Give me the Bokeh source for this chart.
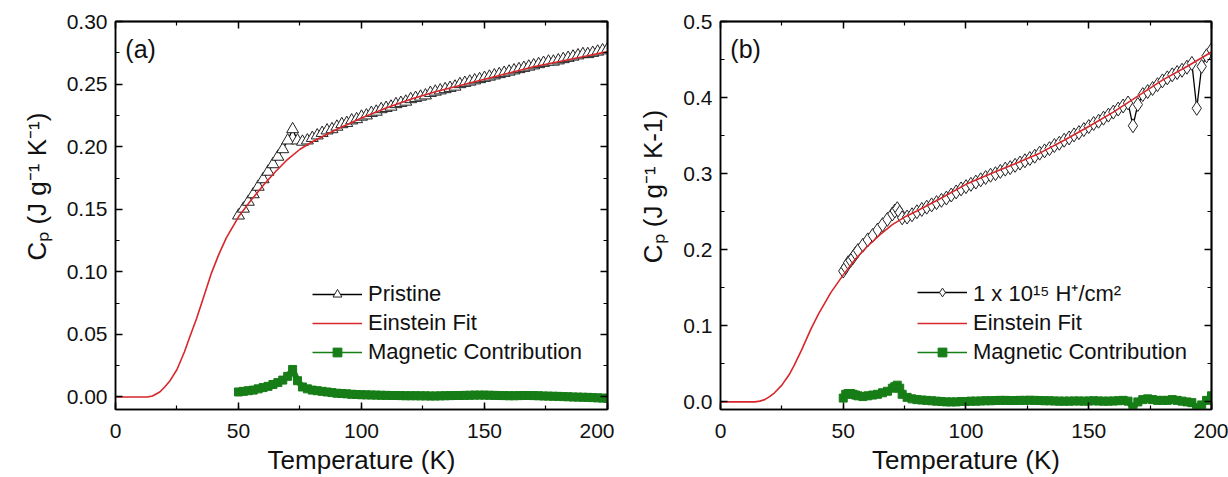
from bokeh.plotting import figure
from bokeh.layouts import row
from bokeh.models import (LinearAxis, SingleIntervalTicker, FixedTicker, NumeralTickFormatter,
                          Range1d, Legend, LegendItem, Label)
from bokeh.embed import file_html
from bokeh.resources import INLINE

# ---------------- data ----------------
# Panel (a): pristine sample
T_A = list(range(50, 201, 2))
CP_PRISTINE = [
    0.145, 0.1505, 0.156, 0.162, 0.168, 0.174, 0.180, 0.186, 0.192, 0.198, 0.205, 0.214,
    0.205, 0.204, 0.205, 0.207, 0.209, 0.211, 0.213, 0.214, 0.216, 0.218, 0.219, 0.221, 0.222, 0.224,
    0.225, 0.227, 0.228, 0.230, 0.231, 0.232, 0.234, 0.235, 0.236, 0.238,
    0.239, 0.240, 0.241, 0.243, 0.244, 0.245, 0.246, 0.247, 0.248, 0.250,
    0.251, 0.252, 0.253, 0.254, 0.255, 0.256, 0.257, 0.258, 0.259, 0.260,
    0.261, 0.262, 0.263, 0.264, 0.265, 0.266, 0.267, 0.268, 0.268, 0.269,
    0.270, 0.271, 0.272, 0.273, 0.274, 0.274, 0.275, 0.276, 0.277, 0.278,
]
MAG_A = [
    0.004, 0.0045, 0.005, 0.0055, 0.0065, 0.0075, 0.0085, 0.010, 0.0115, 0.0135, 0.0165, 0.022,
    0.013, 0.008, 0.0065, 0.0055, 0.005, 0.0045, 0.004, 0.0035, 0.003, 0.0028, 0.0025, 0.0022, 0.002, 0.0018,
    0.0017, 0.0016, 0.0015, 0.0014, 0.0013, 0.0012, 0.0012, 0.0011, 0.001, 0.001,
    0.001, 0.0009, 0.0009, 0.0008, 0.0008, 0.0009, 0.001, 0.0011, 0.0012, 0.0012,
    0.0013, 0.0014, 0.0015, 0.0015, 0.0015, 0.0014, 0.0013, 0.0012, 0.0011, 0.001,
    0.001, 0.0011, 0.0012, 0.0012, 0.0011, 0.001, 0.0008, 0.0007, 0.0006, 0.0005,
    0.0003, 0.0002, 0.0, -0.0001, -0.0002, -0.0003, -0.0005, -0.0007, -0.0009, -0.001,
]
T_FIT_A = [0, 5, 10, 13, 15, 18, 20, 22, 25, 28, 30, 33, 36, 39, 42, 45, 50, 55, 60, 65,
           70, 75, 80, 90, 100, 110, 120, 130, 140, 150, 160, 170, 180, 190, 200]
CP_FIT_A = [0, 0, 0, 0, 0.0008, 0.004, 0.008, 0.0125, 0.022, 0.036, 0.047, 0.063, 0.081,
            0.099, 0.114, 0.127, 0.144, 0.157, 0.169, 0.180, 0.190, 0.198, 0.204, 0.214,
            0.223, 0.231, 0.238, 0.244, 0.249, 0.254, 0.259, 0.264, 0.268, 0.272, 0.276]

# Panel (b): 1 x 10^15 H+/cm^2 irradiated sample
T_B = [50, 51, 52, 53, 54, 55, 56, 58, 60, 62, 64, 66, 68, 70, 71, 72, 73, 74] + list(range(76, 201, 2))
CP_IRR = [
    0.172, 0.177, 0.183, 0.186, 0.190, 0.195, 0.199, 0.206, 0.213, 0.219, 0.226, 0.233,
    0.240, 0.247, 0.251, 0.254, 0.249, 0.242,
    0.243, 0.246, 0.250, 0.253, 0.256, 0.259, 0.262, 0.265, 0.268, 0.272, 0.276, 0.280, 0.283,
    0.286, 0.289, 0.292, 0.295, 0.298, 0.300, 0.303, 0.306, 0.308, 0.311,
    0.314, 0.317, 0.320, 0.323, 0.327, 0.330, 0.333, 0.337, 0.340, 0.344,
    0.347, 0.351, 0.354, 0.358, 0.362, 0.366, 0.369, 0.373, 0.377, 0.381,
    0.385, 0.389, 0.393, 0.363, 0.391, 0.404, 0.408, 0.412, 0.417, 0.422,
    0.426, 0.430, 0.433, 0.436, 0.440, 0.445, 0.386, 0.441, 0.455, 0.463,
]
MAG_B = [
    0.005, 0.010, 0.011, 0.011, 0.010, 0.009, 0.008, 0.007, 0.008, 0.009, 0.010, 0.012,
    0.014, 0.018, 0.020, 0.022, 0.018, 0.010,
    0.006, 0.004, 0.003, 0.0025, 0.002, 0.0015, 0.001, 0.0005, 0.0, 0.0, 0.0, 0.0005, 0.0005,
    0.001, 0.001, 0.0012, 0.0015, 0.0015, 0.0018, 0.002, 0.002, 0.0018, 0.0018,
    0.002, 0.002, 0.0022, 0.002, 0.0018, 0.0015, 0.0015, 0.0012, 0.001, 0.001,
    0.001, 0.0012, 0.0012, 0.001, 0.0012, 0.0015, 0.0012, 0.001, 0.001, 0.0012,
    0.0015, 0.002, 0.001, -0.008, 0.0, 0.003, 0.004, 0.003, 0.002, 0.002,
    0.002, 0.003, 0.002, 0.001, 0.0, -0.001, -0.008, -0.004, 0.002, 0.008,
]
T_FIT_B = [0, 5, 10, 14, 16, 18, 20, 22, 25, 28, 30, 33, 37, 40, 45, 50, 55, 60, 65, 70,
           75, 80, 90, 100, 110, 120, 130, 140, 150, 160, 170, 180, 190, 200]
CP_FIT_B = [0, 0, 0, 0, 0.001, 0.003, 0.007, 0.012, 0.022, 0.036, 0.048, 0.068, 0.097,
            0.116, 0.144, 0.167, 0.188, 0.205, 0.220, 0.233, 0.243, 0.251, 0.268, 0.286,
            0.300, 0.313, 0.327, 0.344, 0.362, 0.381, 0.402, 0.423, 0.441, 0.460]

X_LABEL = "Temperature (K)"
Y_LABEL_A = "C\u209a (J g\u207b\u00b9 K\u207b\u00b9)"
Y_LABEL_B = "C\u209a (J g\u207b\u00b9 K-1)"
LEG_A = ["Pristine", "Einstein Fit", "Magnetic Contribution"]
LEG_B = ["1 x 10\u00b9\u2075 H\u207a/cm\u00b2", "Einstein Fit", "Magnetic Contribution"]

X_MAJOR = [0, 50, 100, 150, 200]
X_MINOR = [25, 75, 125, 175]
Y_MAJOR_A = [0.0, 0.05, 0.10, 0.15, 0.20, 0.25, 0.30]
Y_MINOR_A = [0.025, 0.075, 0.125, 0.175, 0.225, 0.275]
Y_MAJOR_B = [0.0, 0.1, 0.2, 0.3, 0.4, 0.5]
Y_MINOR_B = [0.05, 0.15, 0.25, 0.35, 0.45]

NAN = float("nan")

# ---------------- styling ----------------
FONT = "Liberation Sans"
RED = "#d8262a"
GREEN = "#177d17"
BLACK = "#000000"
TXT = "#111111"
PAD = "\u00a0" * 8   # lifts the rotated y title a little, as in the reference


def base_axis(ax):
    ax.major_tick_in = 7
    ax.major_tick_out = 0
    ax.minor_tick_in = 4
    ax.minor_tick_out = 0
    ax.axis_line_color = BLACK
    ax.axis_line_width = 1.5
    ax.major_tick_line_color = BLACK
    ax.major_tick_line_width = 1.5
    ax.minor_tick_line_color = BLACK
    ax.minor_tick_line_width = 1.2
    ax.major_label_text_font = FONT
    ax.major_label_text_color = TXT
    ax.major_label_text_font_size = "21px"
    ax.axis_label_text_font = FONT
    ax.axis_label_text_font_size = "26px"
    ax.axis_label_text_font_style = "normal"
    ax.axis_label_text_color = TXT


def mirror_axes(p, side, major, minor):
    # unlabelled mirror axes on the top / right edges of the frame
    for ticks, length in ((major, 7), (minor, 4)):
        ax = LinearAxis(ticker=FixedTicker(ticks=[], minor_ticks=ticks))
        ax.axis_line_color = BLACK
        ax.axis_line_width = 1.5
        ax.major_tick_in = 0
        ax.major_tick_out = 0
        ax.minor_tick_in = length
        ax.minor_tick_out = 0
        ax.minor_tick_line_color = BLACK
        ax.minor_tick_line_width = 1.5 if length == 7 else 1.2
        ax.major_label_standoff = 0
        p.add_layout(ax, side)


def make_panel(tag, y_top, y_int, y_fmt, y_label, y_major, y_minor,
               t_data, cp_data, marker, msize,
               t_fit, cp_fit, mag, leg_labels, border_left, border_right):
    p = figure(width=614, height=477, x_range=Range1d(0, 200.0001),
               y_range=Range1d(-0.01, y_top + 0.0001),
               output_backend="svg", toolbar_location=None,
               min_border_left=border_left, min_border_right=border_right,
               min_border_top=21, min_border_bottom=67)
    p.xgrid.visible = False
    p.ygrid.visible = False
    p.outline_line_color = BLACK
    p.outline_line_width = 1.5
    p.background_fill_color = "white"
    p.border_fill_color = "white"

    xa = p.xaxis[0]
    base_axis(xa)
    xa.ticker = SingleIntervalTicker(interval=50, num_minor_ticks=2)
    xa.formatter = NumeralTickFormatter(format="0")
    xa.axis_label = X_LABEL
    xa.major_label_standoff = 14
    xa.axis_label_standoff = 4

    ya = p.yaxis[0]
    base_axis(ya)
    ya.ticker = SingleIntervalTicker(interval=y_int, num_minor_ticks=2)
    ya.formatter = NumeralTickFormatter(format=y_fmt)
    ya.axis_label = PAD + y_label
    ya.major_label_standoff = 8
    ya.axis_label_standoff = 12

    mirror_axes(p, "above", X_MAJOR, X_MINOR)
    mirror_axes(p, "right", y_major, y_minor)

    # measured data
    l_d = p.line(t_data, cp_data, line_color=BLACK, line_width=1.3)
    p.scatter(t_data, cp_data, marker=marker, size=msize, fill_color="white",
              line_color="#222222", line_width=1)
    # magnetic contribution
    p.line(t_data, mag, line_color=GREEN, line_width=6)
    l_m = p.line(t_data, mag, line_color=GREEN, line_width=1.5)
    s_m = p.scatter(t_data, mag, marker="square", size=8, fill_color=GREEN, line_color=GREEN)
    # Einstein fit
    l_f = p.line(t_fit, cp_fit, line_color=RED, line_width=1.6)

    # legend key marker for the measured data (smaller than the plotted one)
    k_ds = p.scatter([NAN], [NAN], marker=marker, size=10, fill_color="white",
                     line_color="#222222", line_width=1)

    legend = Legend(items=[LegendItem(label=leg_labels[0], renderers=[l_d, k_ds]),
                           LegendItem(label=leg_labels[1], renderers=[l_f]),
                           LegendItem(label=leg_labels[2], renderers=[l_m, s_m])],
                    location=(197, 44))
    legend.background_fill_alpha = 0
    legend.border_line_color = None
    legend.padding = 0
    legend.margin = 0
    legend.spacing = 3
    legend.glyph_width = 50
    legend.glyph_height = 22
    legend.label_height = 22
    legend.label_standoff = 6
    legend.label_text_font = FONT
    legend.label_text_font_size = "22px"
    legend.label_text_color = TXT
    p.add_layout(legend)

    p.add_layout(Label(x=4, y=y_top - 0.022 * (y_top + 0.01) / 0.31, text=tag,
                       text_font=FONT, text_font_size="25px", text_color=TXT,
                       text_baseline="middle"))
    return p


pa = make_panel("(a)", 0.30, 0.05, "0.00", Y_LABEL_A, Y_MAJOR_A, Y_MINOR_A,
                T_A, CP_PRISTINE, "triangle", 12,
                T_FIT_A, CP_FIT_A, MAG_A, LEG_A, 115, 7)
pb = make_panel("(b)", 0.5, 0.1, "0.0", Y_LABEL_B, Y_MAJOR_B, Y_MINOR_B,
                T_B, CP_IRR, "diamond", 14,
                T_FIT_B, CP_FIT_B, MAG_B, LEG_B, 106, 17)

layout = row(pa, pb, spacing=0)
open("out.html", "w").write(file_html(layout, INLINE))
